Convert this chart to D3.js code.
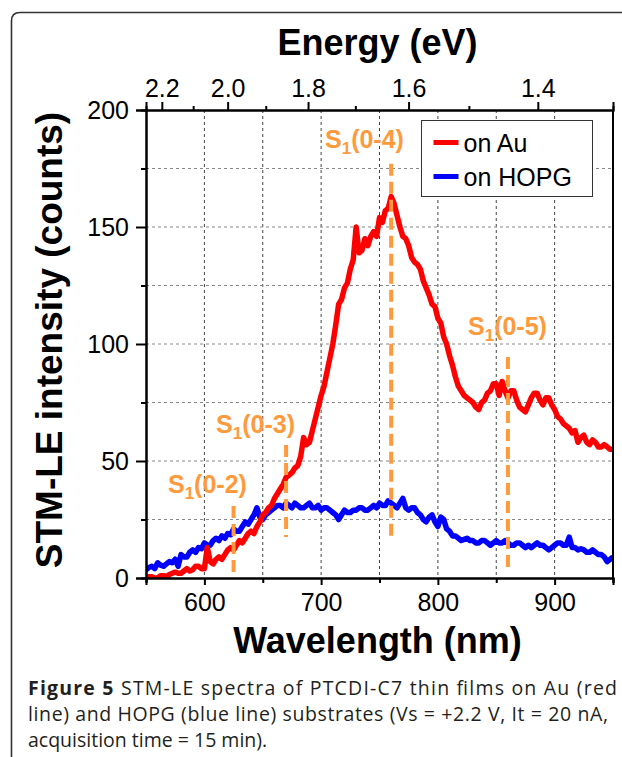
<!DOCTYPE html>
<html>
<head>
<meta charset="utf-8">
<script src="https://cdn.jsdelivr.net/npm/d3@7"></script>
<style>
  body { margin: 0; background: #fff; }
  svg { display: block; }
</style>
</head>
<body>
<div id="chart"></div>
<script>
const wavelengths = d3.range(550, 951, 2.5);
const auCounts = [
  0, 0.5, 0.5, 0, 0, 1, 1, 0.5, 1.5, 2,
  2.5, 2, 2, 3, 4, 3, 3.5, 5, 5, 4,
  4, 13, 7, 6, 8, 9, 8, 10, 12, 13,
  12, 14, 16, 15, 17, 19, 20, 19, 22, 24,
  27, 28, 30, 31, 34, 36, 38, 40, 43, 44,
  45, 47, 48, 52, 60, 57, 58, 63, 68, 73,
  78, 82, 88, 94, 100, 108, 117, 119, 124, 126,
  132, 136, 150, 139, 140, 145, 142, 146, 148, 146,
  154, 152, 157, 158, 163, 160, 155, 150, 146, 145,
  142, 137, 135, 134, 132, 127, 124, 121, 117, 116,
  111, 109, 103, 100, 95, 91, 86, 82, 80, 78,
  77, 76, 75, 73, 72, 75, 76, 79, 80, 83,
  83, 78, 84, 80, 77, 80, 80, 76, 73, 72,
  71, 74, 77, 79, 79, 76, 74, 77, 77, 74,
  72, 69, 68, 66, 65, 64, 62, 63, 58, 60,
  61, 58, 57, 59, 58, 56, 56, 57, 56, 55,
  55
];
const hopgCounts = [
  3.5, 4.5, 5, 4, 6.5, 5.5, 5, 6, 7, 6.5,
  8, 5, 10, 9, 9, 11, 12, 11, 13, 12.5,
  15, 14, 14, 16, 17, 16, 18, 17, 19, 18.5,
  21, 20, 20, 22, 24, 23, 25, 27, 30, 26,
  25, 27, 28, 29, 30, 31, 31, 30, 32, 31,
  30, 32, 31, 30, 30, 31, 32, 30, 30, 31,
  29, 30, 30, 29, 28, 27, 25, 27, 29, 28,
  28, 29, 29, 30, 30, 29, 29, 30, 31, 30,
  32, 31, 31, 33, 32, 31, 30, 32, 34, 30,
  29, 30, 30, 28, 27, 25, 24, 26, 27, 24,
  22, 26, 25, 21, 20, 18, 18, 17, 16, 16.5,
  17, 16, 16, 15, 15, 16, 16, 15, 14, 15,
  16, 15, 15, 16, 15, 14, 14, 15, 15, 14,
  13, 14, 13, 14, 15, 14, 14, 13, 12, 13,
  14, 15, 15, 14, 14, 17.5, 13, 13, 12, 12.5,
  12, 11, 11, 12, 11, 10, 10, 9, 7, 8,
  9
];

const seriesNames = ["on Au", "on HOPG"];
const seriesColors = ["#ff0000", "#0000ff"];

// vibronic assignments: dashed marker position and label anchor
const peakLabels = ["0-2", "0-3", "0-4", "0-5"];
const peakNm = [625, 670, 760, 860];
const peakTop = [30.8, 56.8, 177, 94.4];
const peakBottom = [1.3, 17.5, 17.5, 4.3];
const labelNm = [568.8, 610, 703.3, 825.8];
const labelCounts = [36.3, 62, 183.8, 103.8];

const xMajor = [600, 700, 800, 900];
const xMinor = [550, 650, 750, 850, 950];
const yMajor = [0, 50, 100, 150, 200];
const yMinor = [25, 75, 125, 175];
const eMajor = [2.2, 2.0, 1.8, 1.6, 1.4];
const eMinor = [2.1, 1.9, 1.7, 1.5];
const hc = 1239.84;

const captionLines = [
  ["Figure 5", " STM-LE spectra of PTCDI-C7 thin films on Au (red"],
  ["", "line) and HOPG (blue line) substrates (Vs = +2.2 V, It = 20 nA,"],
  ["", "acquisition time = 15 min)."]
];

const W = 622, H = 757;
const margin = {top: 110, right: 9, bottom: 179, left: 146},
    width = W - margin.left - margin.right,
    height = H - margin.top - margin.bottom;

const svg = d3.select("#chart")
  .append("svg")
    .attr("width", W)
    .attr("height", H);

// page frame with rounded corner
svg.append("path")
  .attr("d", "M11.5,757 L11.5,21 Q11.5,12.5 20,12.5 L622,12.5")
  .attr("fill", "none")
  .attr("stroke", "#333")
  .attr("stroke-width", 1.6);

const g = svg.append("g")
  .attr("transform", `translate(${margin.left},${margin.top})`);

const x = d3.scaleLinear().domain([550, 950]).range([0, width]);
const y = d3.scaleLinear().domain([0, 200]).range([height, 0]);

// grid
g.append("g").selectAll("line")
  .data([600, 650, 700, 750, 800, 850, 900])
  .join("line")
    .attr("x1", d => x(d)).attr("x2", d => x(d))
    .attr("y1", 0).attr("y2", height)
    .attr("stroke", "#444").attr("stroke-width", 1)
    .attr("stroke-dasharray", "3,3");
g.append("g").selectAll("line")
  .data([25, 50, 75, 100, 125, 150, 175])
  .join("line")
    .attr("x1", 0).attr("x2", width)
    .attr("y1", d => y(d)).attr("y2", d => y(d))
    .attr("stroke", "#888").attr("stroke-width", 1)
    .attr("stroke-dasharray", "3,3");

g.append("clipPath").attr("id", "clip")
  .append("rect").attr("width", width).attr("height", height);

const line = d3.line()
  .x(d => x(d[0]))
  .y(d => y(d[1]));

// blue first, red drawn over it
[[hopgCounts, seriesColors[1]], [auCounts, seriesColors[0]]].forEach(([counts, col]) => {
  g.append("path")
    .datum(d3.zip(wavelengths, counts))
    .attr("clip-path", "url(#clip)")
    .attr("fill", "none")
    .attr("stroke", col)
    .attr("stroke-width", 5.5)
    .attr("stroke-linejoin", "round")
    .attr("d", line);
});

// orange markers
const orange = "#ff9a3c";
const font = "Liberation Sans, Arial, sans-serif";
peakNm.forEach((nm, i) => {
  g.append("line")
    .attr("x1", x(nm)).attr("x2", x(nm))
    .attr("y1", y(peakTop[i])).attr("y2", y(peakBottom[i]))
    .attr("stroke", orange)
    .attr("stroke-width", 4)
    .attr("stroke-dasharray", "12,6");
  const t = g.append("text")
    .attr("x", x(labelNm[i]))
    .attr("y", y(labelCounts[i]))
    .attr("fill", orange)
    .style("font-family", font)
    .style("font-weight", "bold")
    .style("font-size", "25px");
  t.append("tspan").text("S");
  t.append("tspan").attr("dy", 6).style("font-size", "17px").text("1");
  t.append("tspan").attr("dy", -6).text("(" + peakLabels[i] + ")");
});

// axes
function styleAxis(sel) {
  sel.selectAll("path").attr("stroke", "#000").attr("stroke-width", 2);
  sel.selectAll("line").attr("stroke", "#000").attr("stroke-width", 2);
  sel.selectAll("text").style("font-family", font).style("font-size", "25px").attr("fill", "#000");
}

g.append("g")
  .attr("transform", `translate(0,${height})`)
  .call(d3.axisBottom(x).tickValues(xMajor).tickSize(7).tickPadding(8).tickFormat(d3.format("d")))
  .call(styleAxis);
g.append("g")
  .attr("transform", `translate(0,${height})`)
  .call(d3.axisBottom(x).tickValues(xMinor).tickSize(5).tickFormat(""))
  .call(styleAxis);

g.append("g")
  .call(d3.axisLeft(y).tickValues(yMajor).tickSize(10).tickPadding(7).tickFormat(d3.format("d")))
  .call(styleAxis);
g.append("g")
  .call(d3.axisLeft(y).tickValues(yMinor).tickSize(5).tickFormat(""))
  .call(styleAxis);

g.append("g")
  .call(d3.axisTop(x).tickValues(eMajor.map(e => hc / e)).tickSize(8).tickPadding(5)
    .tickFormat(d => (hc / d).toFixed(1)))
  .call(styleAxis);
g.append("g")
  .call(d3.axisTop(x).tickValues(eMinor.map(e => hc / e)).tickSize(4).tickFormat(""))
  .call(styleAxis);

// right frame
g.append("line")
  .attr("x1", width).attr("x2", width).attr("y1", 0).attr("y2", height)
  .attr("stroke", "#000").attr("stroke-width", 2);

// titles
g.append("text")
  .attr("x", width / 2 - 2).attr("y", -55)
  .attr("text-anchor", "middle")
  .style("font-family", font).style("font-weight", "bold").style("font-size", "36px")
  .text("Energy (eV)");
g.append("text")
  .attr("x", width / 2 - 2).attr("y", height + 75)
  .attr("text-anchor", "middle")
  .style("font-family", font).style("font-weight", "bold").style("font-size", "36px")
  .text("Wavelength (nm)");
g.append("text")
  .attr("transform", `translate(${62 - margin.left},${340 - margin.top}) rotate(-90)`)
  .attr("text-anchor", "middle")
  .style("font-family", font).style("font-weight", "bold").style("font-size", "37px")
  .text("STM-LE intensity (counts)");

// legend
const legend = g.append("g").attr("transform", `translate(${421.5 - margin.left},${120.5 - margin.top})`);
legend.append("rect")
  .attr("width", 171).attr("height", 76)
  .attr("fill", "#fff").attr("stroke", "#333").attr("stroke-width", 1);
seriesNames.forEach((name, i) => {
  const ly = 22 + i * 34;
  legend.append("line")
    .attr("x1", 12).attr("x2", 37).attr("y1", ly).attr("y2", ly)
    .attr("stroke", seriesColors[i]).attr("stroke-width", 5);
  legend.append("text")
    .attr("x", 42).attr("y", ly + 9)
    .style("font-family", font).style("font-size", "25px")
    .text(name);
});

// caption
const captionY = [695, 721, 747];
const captionLen = [589, 580, null];
captionLines.forEach((parts, i) => {
  const t = svg.append("text")
    .attr("x", 28).attr("y", captionY[i])
    .attr("fill", "#231f20")
    .style("font-family", "Open Sans, sans-serif")
    .style("font-size", "19.5px");
  if (captionLen[i]) t.attr("textLength", captionLen[i]).attr("lengthAdjust", "spacing");
  if (parts[0]) t.append("tspan").style("font-weight", "bold").text(parts[0]);
  t.append("tspan").text(parts[1]);
});
</script>
</body>
</html>
